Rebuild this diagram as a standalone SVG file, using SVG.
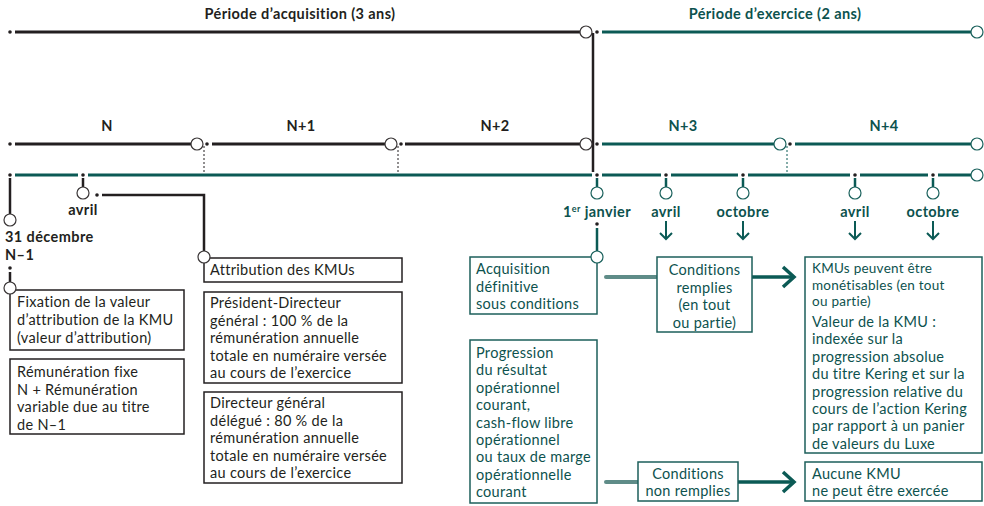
<svg xmlns="http://www.w3.org/2000/svg" width="984" height="506" viewBox="0 0 984 506">
<style>
text{font-family:Lato,"Open Sans","Liberation Sans",sans-serif;}
.b{font-weight:bold;font-size:14.5px;letter-spacing:0.4px;}
.t{font-size:14.5px;fill:#231f20;letter-spacing:0.3px;}
.tt{font-size:14.5px;fill:#0d524e;letter-spacing:0.3px;}
.s{font-size:13.5px;fill:#0d524e;letter-spacing:0.25px;}
.k{fill:#231f20;}
.g{fill:#0d524e;}
.lk{stroke:#231f20;stroke-width:3;fill:none;}
.lg{stroke:#0b5a55;stroke-width:3;fill:none;}
.vk{stroke:#231f20;stroke-width:2.5;fill:none;}
.vg{stroke:#0b5a55;stroke-width:2.5;fill:none;}
.ck{fill:#fff;stroke:#3a3637;stroke-width:1.2;}
.cg{fill:#fff;stroke:#1a615c;stroke-width:1.2;}
.dk{fill:#231f20;}
.bk{fill:#fff;stroke:#231f20;stroke-width:1.5;}
.bg{fill:#fff;stroke:#1d5f5b;stroke-width:1.5;}
.dash{stroke:#231f20;stroke-width:1;stroke-dasharray:2 2;}
.dashg{stroke:#0b5a55;stroke-width:1;stroke-dasharray:2 2;}
.arr{stroke:#0b5a55;stroke-width:2;fill:none;}
.ha{stroke:#0b5a55;stroke-width:3.5;fill:none;}
.hl{stroke:#5f8c88;stroke-width:4;fill:none;stroke-linecap:round;}
</style>

<g id="titles">
<text class="b k" x="300" y="19" text-anchor="middle">Période d’acquisition (3 ans)</text>
<text class="b g" x="775" y="19" text-anchor="middle">Période d’exercice (2 ans)</text>
<text class="b k" x="107" y="131" text-anchor="middle">N</text>
<text class="b k" x="301" y="131" text-anchor="middle">N+1</text>
<text class="b k" x="495" y="131" text-anchor="middle">N+2</text>
<text class="b g" x="683" y="131" text-anchor="middle">N+3</text>
<text class="b g" x="884" y="131" text-anchor="middle">N+4</text>
</g>

<g id="connectors">
<line class="lk" x1="15" y1="32" x2="580" y2="32"/>
<line class="lg" x1="602" y1="32" x2="971" y2="32"/>
<line class="lk" x1="15" y1="144" x2="191" y2="144"/>
<line class="lk" x1="212" y1="144" x2="385" y2="144"/>
<line class="lk" x1="405" y1="144" x2="580" y2="144"/>
<line class="lg" x1="602" y1="144" x2="774" y2="144"/>
<line class="lg" x1="795" y1="144" x2="971" y2="144"/>
<line class="dash" x1="204" y1="146" x2="204" y2="173"/>
<line class="dash" x1="398" y1="146" x2="398" y2="173"/>
<line class="dashg" x1="787" y1="146" x2="787" y2="173"/>
<line class="lg" x1="15" y1="175" x2="78" y2="175"/>
<line class="lg" x1="88" y1="175" x2="592" y2="175"/>
<line class="lg" x1="602" y1="175" x2="661" y2="175"/>
<line class="lg" x1="671" y1="175" x2="738" y2="175"/>
<line class="lg" x1="748" y1="175" x2="850" y2="175"/>
<line class="lg" x1="860" y1="175" x2="928" y2="175"/>
<line class="lg" x1="938" y1="175" x2="971" y2="175"/>
<line class="vk" x1="593" y1="33" x2="593" y2="172"/>
<line class="vk" x1="10" y1="178" x2="10" y2="214"/>
<line class="vk" x1="83" y1="178" x2="83" y2="187"/>
<polyline class="vk" points="102,195 204,195 204,251"/>
<line class="vk" x1="10" y1="272" x2="10" y2="282"/>
<line class="vg" x1="597" y1="178" x2="597" y2="187"/>
<line class="vg" x1="666" y1="178" x2="666" y2="187"/>
<line class="vg" x1="743" y1="178" x2="743" y2="187"/>
<line class="vg" x1="855" y1="178" x2="855" y2="187"/>
<line class="vg" x1="933" y1="178" x2="933" y2="187"/>
<line class="vg" x1="597" y1="228" x2="597" y2="251"/>
<g class="arr">
<path d="M666 221V239M660 233L666 239L672 233"/>
<path d="M743 221V239M737 233L743 239L749 233"/>
<path d="M855 221V239M849 233L855 239L861 233"/>
<path d="M933 221V239M927 233L933 239L939 233"/>
</g>
<line class="hl" x1="606" y1="277" x2="656" y2="277"/>
<line class="ha" x1="752" y1="277" x2="793" y2="277"/>
<path class="ha" d="M783 267L794 277L783 287"/>
<line class="hl" x1="606" y1="482" x2="638" y2="482"/>
<line class="ha" x1="738" y1="482" x2="793" y2="482"/>
<path class="ha" d="M783 472L794 482L783 492"/>
</g>

<g id="markers">
<circle class="dk" cx="10" cy="32" r="1.8"/>
<circle class="ck" cx="586" cy="32" r="6"/>
<circle class="dk" cx="597" cy="32" r="1.8"/>
<circle class="cg" cx="977" cy="32" r="6"/>
<circle class="dk" cx="10" cy="144" r="1.8"/>
<circle class="ck" cx="197" cy="144" r="6"/>
<circle class="dk" cx="207" cy="144" r="1.8"/>
<circle class="ck" cx="391" cy="144" r="6"/>
<circle class="dk" cx="401" cy="144" r="1.8"/>
<circle class="ck" cx="586" cy="144" r="6"/>
<circle class="dk" cx="597" cy="144" r="1.8"/>
<circle class="cg" cx="780" cy="144" r="6"/>
<circle class="dk" cx="790" cy="144" r="1.8"/>
<circle class="cg" cx="977" cy="144" r="6"/>
<circle class="dk" cx="10" cy="175" r="1.8"/>
<circle class="dk" cx="83" cy="175" r="1.8"/>
<circle class="dk" cx="597" cy="175" r="1.8"/>
<circle class="dk" cx="666" cy="175" r="1.8"/>
<circle class="dk" cx="743" cy="175" r="1.8"/>
<circle class="dk" cx="855" cy="175" r="1.8"/>
<circle class="dk" cx="933" cy="175" r="1.8"/>
<circle class="cg" cx="977" cy="175" r="6"/>
</g>

<g id="dec-n-1">
<circle class="ck" cx="10" cy="220" r="6"/>
<text class="b k" x="5" y="242">31 décembre</text>
<text class="b k" x="5" y="260">N–1</text>
<circle class="dk" cx="10" cy="268" r="1.8"/>
</g>

<g id="avril-n">
<circle class="ck" cx="83" cy="193" r="6"/>
<circle class="dk" cx="97" cy="195" r="1.8"/>
<text class="b k" x="83" y="215" text-anchor="middle">avril</text>
</g>

<g id="box-fixation">
<rect class="bk" x="10" y="290" width="174" height="60"/>
<circle class="ck" cx="10" cy="288" r="6"/>
<text class="t" x="17" y="307">Fixation de la valeur</text>
<text class="t" x="17" y="325">d’attribution de la KMU</text>
<text class="t" x="17" y="342.5">(valeur d’attribution)</text>
</g>

<g id="box-remuneration">
<rect class="bk" x="10" y="359" width="174" height="75"/>
<text class="t" x="17" y="377">Rémunération fixe</text>
<text class="t" x="17" y="394.5">N + Rémunération</text>
<text class="t" x="17" y="412">variable due au titre</text>
<text class="t" x="17" y="429.5">de N–1</text>
</g>

<g id="box-attribution">
<rect class="bk" x="204" y="258" width="198" height="24"/>
<circle class="ck" cx="204" cy="257" r="6"/>
<text class="t" x="210" y="275">Attribution des KMUs</text>
</g>

<g id="box-pdg">
<rect class="bk" x="204" y="292" width="198" height="91"/>
<text class="t" x="210" y="308">Président-Directeur</text>
<text class="t" x="210" y="325.5">général : 100 % de la</text>
<text class="t" x="210" y="343">rémunération annuelle</text>
<text class="t" x="210" y="360.5">totale en numéraire versée</text>
<text class="t" x="210" y="378">au cours de l’exercice</text>
</g>

<g id="box-dgd">
<rect class="bk" x="204" y="392" width="198" height="91"/>
<text class="t" x="210" y="408">Directeur général</text>
<text class="t" x="210" y="425.5">délégué : 80 % de la</text>
<text class="t" x="210" y="443">rémunération annuelle</text>
<text class="t" x="210" y="460.5">totale en numéraire versée</text>
<text class="t" x="210" y="478">au cours de l’exercice</text>
</g>

<g id="janvier">
<circle class="cg" cx="597" cy="193" r="6"/>
<text class="b g" x="597" y="217" text-anchor="middle">1<tspan font-size="9" dy="-5">er</tspan><tspan dy="5"> janvier</tspan></text>
<circle class="dk" cx="597" cy="224" r="1.8"/>
</g>

<g id="months">
<circle class="cg" cx="666" cy="193" r="6"/>
<text class="b g" x="666" y="217" text-anchor="middle">avril</text>
<circle class="cg" cx="743" cy="193" r="6"/>
<text class="b g" x="743" y="217" text-anchor="middle">octobre</text>
<circle class="cg" cx="855" cy="193" r="6"/>
<text class="b g" x="855" y="217" text-anchor="middle">avril</text>
<circle class="cg" cx="933" cy="193" r="6"/>
<text class="b g" x="933" y="217" text-anchor="middle">octobre</text>
</g>

<g id="box-acquisition">
<rect class="bg" x="470" y="257" width="127" height="57"/>
<circle class="cg" cx="597" cy="257" r="6"/>
<text class="tt" x="476" y="274">Acquisition</text>
<text class="tt" x="476" y="291.5">définitive</text>
<text class="tt" x="476" y="309">sous conditions</text>
</g>

<g id="box-remplies">
<rect class="bg" x="657" y="257" width="95" height="75"/>
<text class="tt" x="704.5" y="275" text-anchor="middle">Conditions</text>
<text class="tt" x="704.5" y="292.5" text-anchor="middle">remplies</text>
<text class="tt" x="704.5" y="310" text-anchor="middle">(en tout</text>
<text class="tt" x="704.5" y="327.5" text-anchor="middle">ou partie)</text>
</g>

<g id="box-kmus">
<rect class="bg" x="805" y="257" width="177" height="196"/>
<text class="s" x="812" y="273">KMUs peuvent être</text>
<text class="s" x="812" y="289.5">monétisables (en tout</text>
<text class="s" x="812" y="306">ou partie)</text>
<text class="tt" x="812" y="327">Valeur de la KMU :</text>
<text class="tt" x="812" y="344.4">indexée sur la</text>
<text class="tt" x="812" y="361.8">progression absolue</text>
<text class="tt" x="812" y="379.2">du titre Kering et sur la</text>
<text class="tt" x="812" y="396.6">progression relative du</text>
<text class="tt" x="812" y="414">cours de l’action Kering</text>
<text class="tt" x="812" y="431.4">par rapport à un panier</text>
<text class="tt" x="812" y="448.8">de valeurs du Luxe</text>
</g>

<g id="box-progression">
<rect class="bg" x="470" y="340" width="127" height="163"/>
<text class="tt" x="476" y="358">Progression</text>
<text class="tt" x="476" y="375.4">du résultat</text>
<text class="tt" x="476" y="392.8">opérationnel</text>
<text class="tt" x="476" y="410.2">courant,</text>
<text class="tt" x="476" y="427.6">cash-flow libre</text>
<text class="tt" x="476" y="445">opérationnel</text>
<text class="tt" x="476" y="462.4">ou taux de marge</text>
<text class="tt" x="476" y="479.8">opérationnelle</text>
<text class="tt" x="476" y="497.2">courant</text>
</g>

<g id="box-non-remplies">
<rect class="bg" x="638" y="462" width="100" height="39"/>
<text class="tt" x="688" y="478.5" text-anchor="middle">Conditions</text>
<text class="tt" x="688" y="496" text-anchor="middle">non remplies</text>
</g>

<g id="box-aucune">
<rect class="bg" x="805" y="462" width="177" height="39"/>
<text class="tt" x="812" y="478.5">Aucune KMU</text>
<text class="tt" x="812" y="496">ne peut être exercée</text>
</g>
</svg>
